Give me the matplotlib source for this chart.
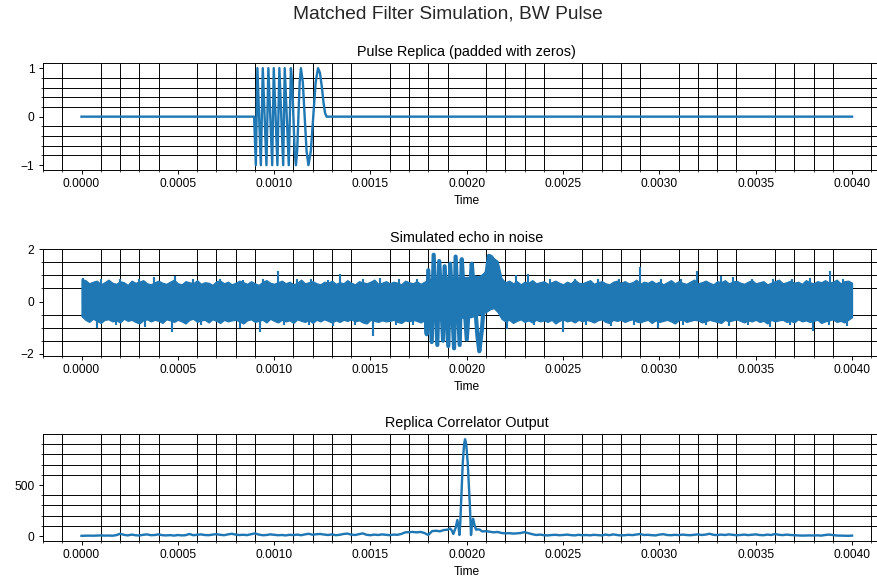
import numpy as np
import matplotlib
matplotlib.use("Agg")
import matplotlib.pyplot as plt
from matplotlib.ticker import MultipleLocator, AutoMinorLocator, FormatStrFormatter

plt.rcParams["font.family"] = ["Liberation Sans", "DejaVu Sans"]

# --- pulse replica: zero padding, then the BW chirp (extrema + a few shape points)
replica_t = [0.0, 0.000896, 0.000905, 0.000913, 0.000931, 0.000941, 0.000960,
             0.000970, 0.000990, 0.000998, 0.001017, 0.001027, 0.001047,
             0.001055, 0.001076, 0.001087, 0.0010935, 0.001100, 0.0011065,
             0.001113, 0.0011195, 0.001126, 0.0011325, 0.001139, 0.0011488,
             0.0011585, 0.0011683, 0.001178, 0.0011905, 0.001203, 0.0012155,
             0.001228, 0.001238, 0.001248, 0.001256, 0.001264, 0.001272, 0.004]
replica_v = [0.0, 0.0, -1.0, 1.0, -1.0, 1.0, -1.0,
             1.0, -1.0, 1.0, -1.0, 1.0, -1.0,
             1.0, -1.0, 1.0, 0.71, 0.0, -0.71,
             -1.0, -0.71, 0.0, 0.71, 1.0, 0.71,
             0.0, -0.71, -1.0, -0.71, 0.0, 0.71,
             1.0, 0.9, 0.6, 0.3, 0.08, 0.0, 0.0]

# --- echo in noise: noise band envelope every 20 us
noise_t = np.linspace(0.0, 0.004, 201)
noise_hi = [0.86, 0.82, 0.70, 0.76, 0.80, 0.66, 0.74, 0.84, 0.72, 0.68,
            0.78, 0.74, 0.64, 0.80, 0.72, 0.76, 0.82, 0.70, 0.66, 0.74,
            0.80, 0.72, 0.68, 0.76, 0.84, 0.70, 0.66, 0.78, 0.74, 0.70,
            0.82, 0.68, 0.74, 0.72, 0.64, 0.78, 0.80, 0.70, 0.76, 0.66,
            0.72, 0.80, 0.74, 0.68, 0.78, 0.70, 0.64, 0.76, 0.82, 0.72,
            0.68, 0.74, 0.80, 0.70, 0.76, 0.66, 0.72, 0.84, 0.70, 0.74,
            0.78, 0.70, 0.66, 0.76, 0.72, 0.80, 0.68, 0.74, 0.70, 0.82,
            0.72, 0.66, 0.78, 0.74, 0.70, 0.76, 0.84, 0.68, 0.72, 0.78,
            0.70, 0.76, 0.72, 0.66, 0.80, 0.74, 0.70, 0.78, 0.68, 0.76,
            0.82, 0.90, 0.95, 0.92, 0.98, 0.94, 0.96, 0.90, 0.95, 0.92,
            0.95, 0.90, 1.00, 0.96, 1.05, 1.20, 1.70, 1.66, 1.55, 0.90,
            0.74, 0.80, 0.70, 0.78, 0.66, 0.76, 0.72, 0.82, 0.70, 0.74,
            0.78, 0.68, 0.74, 0.80, 0.72, 0.66, 0.76, 0.70, 0.84, 0.72,
            0.70, 0.76, 0.82, 0.68, 0.74, 0.78, 0.70, 0.66, 0.76, 0.80,
            0.72, 0.78, 0.70, 0.74, 0.84, 0.68, 0.76, 0.72, 0.80, 0.70,
            0.76, 0.66, 0.74, 0.82, 0.70, 0.78, 0.72, 0.68, 0.76, 0.84,
            0.70, 0.74, 0.80, 0.72, 0.66, 0.78, 0.74, 0.82, 0.70, 0.76,
            0.80, 0.72, 0.68, 0.76, 0.82, 0.70, 0.74, 0.78, 0.66, 0.72,
            0.78, 0.84, 0.70, 0.74, 0.80, 0.72, 0.76, 0.68, 0.82, 0.74,
            0.70, 0.78, 0.74, 0.82, 0.72, 0.76, 0.84, 0.70, 0.78, 0.80,
            0.72]
noise_lo = [-0.56, -0.70, -0.78, -0.66, -0.74, -0.82, -0.70, -0.68, -0.76, -0.72,
            -0.80, -0.66, -0.74, -0.70, -0.78, -0.84, -0.72, -0.68, -0.76, -0.70,
            -0.74, -0.82, -0.68, -0.72, -0.78, -0.70, -0.76, -0.84, -0.70, -0.66,
            -0.78, -0.72, -0.70, -0.80, -0.68, -0.74, -0.82, -0.70, -0.76, -0.72,
            -0.70, -0.76, -0.84, -0.72, -0.68, -0.78, -0.74, -0.70, -0.80, -0.66,
            -0.74, -0.80, -0.70, -0.76, -0.72, -0.82, -0.68, -0.74, -0.78, -0.70,
            -0.82, -0.70, -0.76, -0.68, -0.74, -0.80, -0.72, -0.78, -0.70, -0.74,
            -0.68, -0.76, -0.72, -0.80, -0.84, -0.70, -0.74, -0.78, -0.72, -0.76,
            -0.74, -0.70, -0.78, -0.82, -0.72, -0.76, -0.70, -0.74, -0.80, -0.72,
            -0.70, -0.66, -0.72, -0.68, -0.62, -0.70, -0.64, -0.66, -0.60, -0.62,
            -0.58, -0.60, -0.55, -0.50, -0.45, -0.40, -0.30, -0.25, -0.40, -0.66,
            -0.76, -0.70, -0.82, -0.74, -0.68, -0.78, -0.72, -0.80, -0.70, -0.76,
            -0.72, -0.78, -0.70, -0.84, -0.74, -0.68, -0.76, -0.72, -0.80, -0.70,
            -0.76, -0.70, -0.74, -0.80, -0.72, -0.68, -0.78, -0.82, -0.70, -0.74,
            -0.70, -0.78, -0.72, -0.68, -0.76, -0.80, -0.74, -0.70, -0.82, -0.72,
            -0.78, -0.74, -0.70, -0.76, -0.84, -0.72, -0.68, -0.78, -0.74, -0.70,
            -0.72, -0.80, -0.76, -0.70, -0.74, -0.78, -0.82, -0.70, -0.76, -0.72,
            -0.68, -0.74, -0.80, -0.72, -0.76, -0.70, -0.78, -0.74, -0.84, -0.70,
            -0.76, -0.72, -0.70, -0.78, -0.74, -0.80, -0.68, -0.76, -0.72, -0.78,
            -0.74, -0.70, -0.82, -0.76, -0.72, -0.68, -0.78, -0.74, -0.80, -0.70,
            -0.60]

# isolated noise spikes poking out of the band
up_spike_t = [0.00001, 0.00010, 0.00020, 0.00030, 0.000374, 0.000486, 0.00058,
              0.00072, 0.00084, 0.00094, 0.001022, 0.00112, 0.00119, 0.00128,
              0.001342, 0.00146, 0.00155, 0.00165, 0.00174, 0.002256, 0.00232,
              0.00243, 0.00256, 0.00268, 0.00279, 0.0029, 0.00301, 0.00311,
              0.003193, 0.003318, 0.003383, 0.00348, 0.00359, 0.00369, 0.00378,
              0.003885, 0.003954]
up_spike_v = [0.92, 0.88, 0.85, 0.86, 0.93, 0.96, 0.86, 0.86, 0.84, 0.88,
              1.15, 0.85, 0.86, 0.84, 1.06, 0.86, 0.90, 0.86, 0.88,
              1.02, 1.05, 0.86, 0.88, 0.85, 0.86, 1.34, 0.86, 0.88,
              1.15, 0.98, 0.94, 0.86, 0.88, 0.85, 0.90, 1.17, 0.88]
down_spike_t = [0.00008, 0.00018, 0.00033, 0.000469, 0.00062, 0.000824, 0.000928,
                0.00105, 0.00118, 0.001306, 0.00142, 0.001515, 0.00163, 0.00172,
                0.002208, 0.00235, 0.002501, 0.00262, 0.00275, 0.00287, 0.002994,
                0.00312, 0.00324, 0.00336, 0.00346, 0.003574, 0.00368, 0.003799,
                0.00388, 0.003972]
down_spike_v = [-1.02, -0.88, -0.96, -1.15, -0.88, -1.02, -1.15, -0.90, -0.88, -0.95,
                -0.88, -1.30, -0.90, -0.88, -1.05, -0.90, -1.15, -0.88, -0.92, -0.88,
                -1.00, -0.90, -0.88, -0.92, -0.88, -0.98, -0.90, -1.12, -0.88, -0.95]

# the delayed chirp riding on the noise
echo_chirp_t = [0.001780, 0.001792, 0.001800, 0.001818, 0.001828, 0.001847,
                0.001857, 0.001877, 0.001885, 0.001904, 0.001914, 0.001934,
                0.001942, 0.001963, 0.001974, 0.001987, 0.002000, 0.002013,
                0.002026, 0.002036, 0.002046, 0.002055, 0.002065, 0.002078,
                0.002090, 0.002103, 0.002115, 0.002128, 0.002142, 0.002155]
echo_chirp_v = [0.2, -1.25, 1.2, -1.55, 1.79, -1.66,
                1.55, -1.5, 1.35, -1.7, 1.45, -1.79,
                1.72, -1.66, 1.62, 0.0, -1.45, 0.1,
                1.45, 0.5, -0.4, -1.3, -1.9, -1.1,
                0.0, 1.1, 1.75, 1.7, 1.5, 0.8]

# --- replica correlator output
corr_left_t = np.linspace(0.0, 0.00188, 95)
corr_left_v = [2, 3, 4, 3, 5, 6, 4, 5, 3, 8,
               22, 12, 6, 14, 8, 5, 12, 16, 8, 10,
               16, 8, 6, 9, 4, 10, 6, 8, 20, 8,
               12, 16, 10, 8, 14, 18, 12, 8, 16, 22,
               14, 10, 12, 9, 18, 26, 14, 8, 10, 16,
               12, 8, 10, 6, 12, 9, 14, 8, 16, 22,
               12, 18, 20, 14, 10, 16, 8, 12, 20, 24,
               14, 10, 18, 26, 12, 8, 14, 10, 16, 12,
               8, 14, 12, 20, 36, 38, 40, 36, 40, 30,
               10, 48, 52, 46, 58]
corr_peak_t = [0.00190, 0.001913, 0.001922, 0.00193, 0.001942, 0.001951,
               0.001957, 0.001962, 0.001966, 0.001972, 0.001979, 0.001986,
               0.001991, 0.001997, 0.002005, 0.002012, 0.002016, 0.002022,
               0.002027, 0.002033, 0.002040, 0.002048, 0.002058, 0.002068]
corr_peak_v = [62, 75, 55, 20, 80, 157,
               90, 10, 120, 385, 713, 900,
               949, 900, 713, 440, 300, 10,
               110, 170, 110, 62, 66, 62]
corr_right_t = np.linspace(0.00208, 0.004, 97)
corr_right_v = [45, 48, 42, 36, 40, 30, 26, 28, 24, 26,
                30, 38, 28, 18, 10, 14, 8, 6, 10, 12,
                8, 10, 14, 9, 6, 12, 8, 10, 7, 12,
                9, 6, 14, 8, 16, 10, 6, 8, 12, 9,
                14, 20, 10, 12, 8, 6, 14, 18, 10, 8,
                12, 9, 14, 10, 8, 12, 16, 10, 14, 22,
                12, 9, 14, 10, 16, 12, 8, 10, 14, 9,
                12, 16, 10, 8, 14, 10, 20, 12, 9, 14,
                10, 8, 6, 4, 5, 6, 5, 7, 4, 10,
                14, 9, 5, 4, 3, 2, 4]

corr_t = np.concatenate([corr_left_t, corr_peak_t, corr_right_t])
corr_v = np.concatenate([corr_left_v, corr_peak_v, corr_right_v])

BLUE = "#1f77b4"
DPI = 86
fig = plt.figure(figsize=(877 / DPI, 583 / DPI), dpi=DPI)

left, width, height = 0.049, 0.9665, 0.183
ax1 = fig.add_axes([left, 0.7084, width, height])
ax2 = fig.add_axes([left, 0.3899, width, height])
ax3 = fig.add_axes([left, 0.0720, width, height])


def style(ax, yticks, nminor):
    ax.set_xlim(-0.0002, 0.0042)
    ax.xaxis.set_major_locator(MultipleLocator(0.0005))
    ax.xaxis.set_minor_locator(AutoMinorLocator(5))
    ax.xaxis.set_major_formatter(FormatStrFormatter("%.4f"))
    ax.set_yticks(yticks)
    ax.yaxis.set_minor_locator(AutoMinorLocator(nminor))
    ax.grid(which="minor", color="k", linewidth=0.8)
    ax.set_xlabel("Time")


ax1.plot(replica_t, replica_v, color=BLUE, lw=2)
ax1.set_title("Pulse Replica (padded with zeros)")
style(ax1, [-1, 0, 1], 5)
ax1.set_ylim(-1.1, 1.1)

ax2.fill_between(noise_t, noise_lo, noise_hi, color=BLUE, lw=1, zorder=2)
ax2.vlines(up_spike_t, 0, up_spike_v, color=BLUE, lw=1.8, zorder=2)
ax2.vlines(down_spike_t, 0, down_spike_v, color=BLUE, lw=1.8, zorder=2)
ax2.plot(echo_chirp_t, echo_chirp_v, color=BLUE, lw=3.5, zorder=3)
ax2.set_title("Simulated echo in noise")
style(ax2, [-2, 0, 2], 4)
ax2.set_ylim(-2.07, 2.01)

ax3.plot(corr_t, corr_v, color=BLUE, lw=2)
ax3.set_title("Replica Correlator Output")
style(ax3, [0, 500], 5)
ax3.set_ylim(-49, 997)

fig.text(0.511, 1 - 14 / 583, "Matched Filter Simulation, BW Pulse",
         ha="center", va="center", fontsize=16, color="#262626")

fig.savefig("out.png", dpi=DPI)
